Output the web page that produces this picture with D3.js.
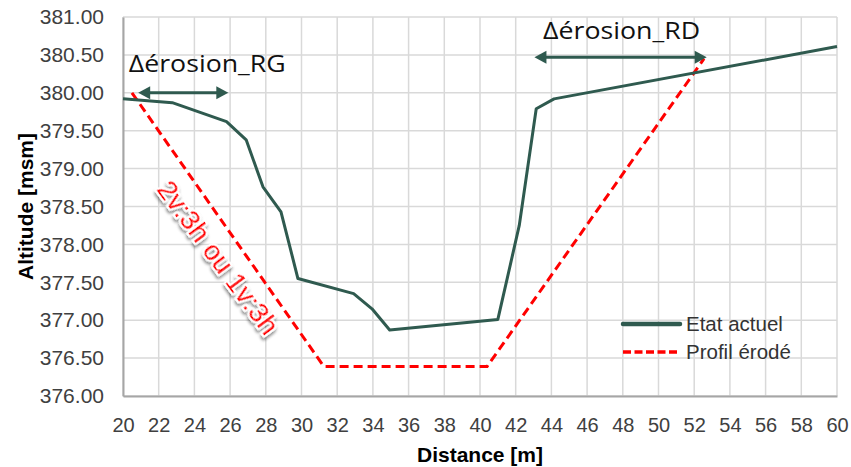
<!DOCTYPE html>
<html>
<head>
<meta charset="utf-8">
<script src="https://cdn.jsdelivr.net/npm/d3@7"></script>
<style>
  html, body { margin: 0; padding: 0; background: #ffffff; }
  svg { display: block; }
</style>
</head>
<body>
<svg id="chart" width="851" height="467"></svg>
<script>
// ---- data ----
const etatX = [20, 22.76, 25.8, 26.9, 27.84, 28.85, 29.8, 32.92, 33.95, 34.94, 41.0, 42.2, 43.15, 44.15, 60];
const etatY = [379.92, 379.87, 379.62, 379.38, 378.76, 378.43, 377.55, 377.35, 377.15, 376.87, 377.01, 378.25, 379.79, 379.92, 380.61];

const erodeX = [20.5, 31.25, 40.4, 52.55];
const erodeY = [380.0, 376.39, 376.39, 380.45];

const xTicks = [20, 22, 24, 26, 28, 30, 32, 34, 36, 38, 40, 42, 44, 46, 48, 50, 52, 54, 56, 58, 60];
const yTicks = [376.0, 376.5, 377.0, 377.5, 378.0, 378.5, 379.0, 379.5, 380.0, 380.5, 381.0];

const seriesNames = ["Etat actuel", "Profil érodé"];
const xTitle = "Distance [m]";
const yTitle = "Altitude [msm]";

// annotations (data coordinates)
const arrowLabels = ["Δérosion_RG", "Δérosion_RD"];
const arrowX1 = [20.85, 43.05];
const arrowX2 = [25.9, 52.7];
const arrowYv = [380.0, 380.47];
const slopeLabel = "2v:3h ou 1v:3h";
const slopeLabelPos = [25.35, 377.83];

// ---- layout ----
const W = 851, H = 467;
const margin = { left: 123, right: 14, top: 17, bottom: 71 };
const svg = d3.select("#chart");

const x = d3.scaleLinear().domain([20, 60]).range([margin.left, W - margin.right]);
const y = d3.scaleLinear().domain([376, 381]).range([H - margin.bottom, margin.top]);

const defs = svg.append("defs");
const f = defs.append("filter").attr("id", "shadow").attr("x", "-20%").attr("y", "-20%").attr("width", "140%").attr("height", "140%");
f.append("feDropShadow").attr("dx", 2).attr("dy", 2).attr("stdDeviation", 1.6)
  .attr("flood-color", "#000").attr("flood-opacity", 0.45);

const green = "#2f5a4f";
const red = "#ff0000";

// gridlines
const grid = svg.append("g");
grid.selectAll("line.v").data(xTicks).join("line")
  .attr("x1", d => x(d)).attr("x2", d => x(d))
  .attr("y1", y(376)).attr("y2", y(381))
  .attr("stroke", "#d9d9d9").attr("stroke-width", 1.5);
grid.selectAll("line.h").data(yTicks).join("line")
  .attr("x1", x(20)).attr("x2", x(60))
  .attr("y1", d => y(d)).attr("y2", d => y(d))
  .attr("stroke", "#d9d9d9").attr("stroke-width", 1.5);

// axes
const xAxis = svg.append("g").attr("transform", `translate(0,${y(376)})`)
  .call(d3.axisBottom(x).tickValues(xTicks).tickFormat(d3.format("d")).tickSize(0).tickPadding(22));
const yAxis = svg.append("g").attr("transform", `translate(${x(20)},0)`)
  .call(d3.axisLeft(y).tickValues(yTicks).tickFormat(d3.format(".2f")).tickSize(0).tickPadding(19));
[xAxis, yAxis].forEach(a => {
  a.select(".domain").attr("stroke", "#a6a6a6").attr("stroke-width", 2);
  a.selectAll("text").attr("fill", "#404040")
    .style("font-family", "'Liberation Sans', Arial, sans-serif");
});
xAxis.selectAll("text").style("font-size", "20px");
yAxis.selectAll("text").style("font-size", "21px");

// axis titles
svg.append("text")
  .attr("x", (x(20) + x(60)) / 2).attr("y", 462)
  .attr("text-anchor", "middle")
  .style("font-family", "'Liberation Sans', Arial, sans-serif")
  .style("font-size", "21px").style("font-weight", "bold").attr("fill", "#000")
  .text(xTitle);
svg.append("text")
  .attr("transform", `translate(33,${(y(376) + y(381)) / 2}) rotate(-90)`)
  .attr("text-anchor", "middle")
  .style("font-family", "'Liberation Sans', Arial, sans-serif")
  .style("font-size", "21px").style("font-weight", "bold").attr("fill", "#000")
  .text(yTitle);

// lines
const line = d3.line().x(d => x(d[0])).y(d => y(d[1]));
const etat = etatX.map((v, i) => [v, etatY[i]]);
const erode = erodeX.map((v, i) => [v, erodeY[i]]);

svg.append("path").datum(erode).attr("d", line)
  .attr("fill", "none").attr("stroke", red).attr("stroke-width", 3)
  .attr("stroke-dasharray", "9,5");
svg.append("path").datum(etat).attr("d", line)
  .attr("fill", "none").attr("stroke", green).attr("stroke-width", 3)
  .attr("stroke-linejoin", "round");

// slope label
const p0 = [x(erodeX[0]), y(erodeY[0])], p1 = [x(erodeX[1]), y(erodeY[1])];
const ang = Math.atan2(p1[1] - p0[1], p1[0] - p0[0]) * 180 / Math.PI - 1.5;
svg.append("text")
  .attr("transform", `translate(${x(slopeLabelPos[0])},${y(slopeLabelPos[1])}) rotate(${ang})`)
  .attr("text-anchor", "middle").attr("dy", "0.35em")
  .style("font-family", "'Liberation Sans', Arial, sans-serif")
  .style("font-size", "28px")
  .attr("fill", red).attr("stroke", "#fff").attr("stroke-width", 4)
  .attr("paint-order", "stroke").attr("stroke-linejoin", "round")
  .attr("filter", "url(#shadow)")
  .text(slopeLabel);

// arrows
arrowLabels.forEach((lab, i) => {
  const xa = x(arrowX1[i]), xb = x(arrowX2[i]), ya = y(arrowYv[i]);
  const hl = 12, hw = 6.5;
  svg.append("line").attr("x1", xa + hl - 1).attr("x2", xb - hl + 1)
    .attr("y1", ya).attr("y2", ya).attr("stroke", green).attr("stroke-width", 3);
  svg.append("path").attr("d", `M${xa},${ya}L${xa + hl},${ya - hw}L${xa + hl},${ya + hw}Z`).attr("fill", green);
  svg.append("path").attr("d", `M${xb},${ya}L${xb - hl},${ya - hw}L${xb - hl},${ya + hw}Z`).attr("fill", green);
  svg.append("text")
    .attr("x", (xa + xb) / 2 + (i === 0 ? 24 : 1)).attr("y", ya - (i === 0 ? 20.5 : 18.5))
    .attr("text-anchor", "middle")
    .style("font-family", "'Open Sans', 'Noto Sans', sans-serif")
    .style("font-size", "23px").attr("fill", "#111")
    .attr("textLength", 157).attr("lengthAdjust", "spacingAndGlyphs")
    .text(lab);
});

// legend
const leg = svg.append("g");
const legY = [324, 352];
seriesNames.forEach((nm, i) => {
  leg.append("line").attr("x1", 623).attr("x2", 680)
    .attr("y1", legY[i]).attr("y2", legY[i])
    .attr("stroke", i === 0 ? green : red).attr("stroke-width", i === 0 ? 4.5 : 3.5)
    .attr("stroke-linecap", i === 0 ? "round" : "butt")
    .attr("stroke-dasharray", i === 0 ? null : "8,3.5");
  leg.append("text").attr("x", 686).attr("y", legY[i]).attr("dy", "0.35em")
    .style("font-family", "'Liberation Sans', Arial, sans-serif")
    .style("font-size", "20.5px").attr("fill", "#333")
    .text(nm);
});
</script>
</body>
</html>
